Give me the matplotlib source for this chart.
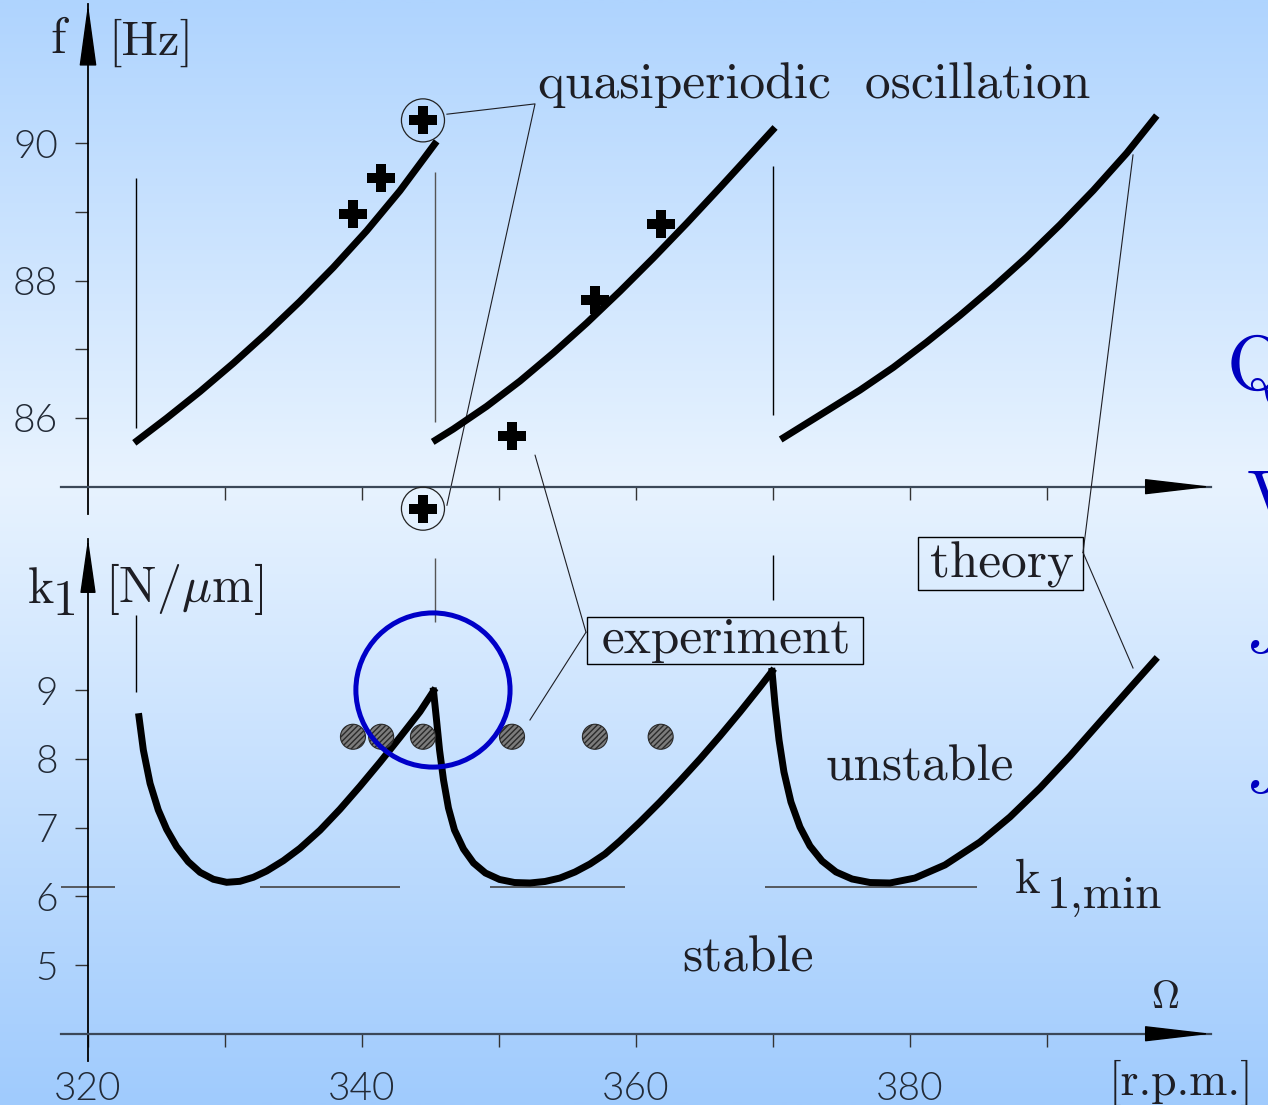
import numpy as np
import matplotlib
matplotlib.use('Agg')
import matplotlib.pyplot as plt
from matplotlib.colors import LinearSegmentedColormap
from matplotlib.patches import Rectangle, ConnectionPatch

plt.rcParams['font.family'] = ['Lato', 'DejaVu Sans']
plt.rcParams['font.weight'] = 300
plt.rcParams['mathtext.fontset'] = 'cm'

# theory: frequency of the self-excited vibration, three branches
f_rpm_1 = [323.38, 325.74, 328.18, 330.61, 333.04, 335.47, 337.91, 340.34, 342.77, 345.45]
f_hz_1 = [85.638, 85.997, 86.385, 86.797, 87.234, 87.696, 88.191, 88.723, 89.306, 90.025]
f_rpm_2 = [345.16, 346.66, 349.10, 351.53, 353.96, 356.40, 358.83, 361.26, 363.70, 366.13,
           368.56, 370.15]
f_hz_2 = [85.652, 85.838, 86.169, 86.537, 86.945, 87.381, 87.843, 88.327, 88.832, 89.352,
          89.881, 90.227]
f_rpm_3 = [370.56, 373.92, 376.35, 378.78, 381.22, 383.65, 386.08, 388.52, 390.95, 393.38,
           395.82, 398.01]
f_hz_3 = [85.687, 86.103, 86.405, 86.735, 87.103, 87.492, 87.904, 88.341, 88.811, 89.311,
          89.854, 90.400]

# theory: stability limit of the stiffness k1
k_rpm_1 = [323.72, 324.04, 324.53, 325.13, 325.74, 326.47, 327.32, 328.18, 329.15, 330.12,
           331.09, 332.07, 333.04, 334.26, 335.47, 336.93, 338.39, 339.85, 341.31, 342.77,
           344.23, 345.22]
k_val_1 = [8.612, 8.127, 7.642, 7.255, 6.974, 6.721, 6.502, 6.348, 6.247, 6.203,
           6.217, 6.276, 6.367, 6.517, 6.697, 6.959, 7.265, 7.599, 7.948, 8.312,
           8.684, 8.985]
k_rpm_2 = [345.22, 345.44, 345.66, 345.95, 346.31, 346.75, 347.41, 348.14, 349.01, 350.04,
           351.13, 352.26, 353.36, 354.45, 355.55, 356.64, 357.74, 358.83, 360.29, 361.75,
           363.21, 364.67, 366.13, 367.59, 369.05, 369.93]
k_val_2 = [8.985, 8.564, 8.127, 7.691, 7.284, 6.964, 6.687, 6.484, 6.338, 6.244,
           6.200, 6.193, 6.215, 6.265, 6.353, 6.469, 6.615, 6.804, 7.080, 7.371,
           7.678, 7.996, 8.331, 8.680, 9.044, 9.271]
k_rpm_3 = [369.93, 370.15, 370.44, 370.80, 371.31, 371.97, 372.70, 373.58, 374.60, 375.77,
           377.08, 378.54, 380.36, 382.55, 385.11, 387.30, 389.49, 391.68, 393.87, 396.06,
           397.88]
k_val_3 = [9.271, 8.782, 8.273, 7.807, 7.371, 7.007, 6.731, 6.513, 6.353, 6.251,
           6.200, 6.193, 6.265, 6.455, 6.789, 7.153, 7.575, 8.040, 8.535, 9.029,
           9.436]

# experiment
exp_rpm = [339.34, 341.40, 344.45, 350.95, 357.00, 361.80]
exp_f = [88.97, 89.49, 90.33, 85.74, 87.71, 88.82]
exp_k = [8.32, 8.32, 8.32, 8.32, 8.32, 8.32]
qp_rpm = [344.45, 344.45]
qp_f = [90.33, 84.68]

# jumps between branches
jump_rpm = [323.5, 345.3, 370.0]
jump_f_lo = [85.85, 85.94, 86.04]
jump_f_hi = [89.49, 89.58, 89.67]
jump_k_lo = [8.97, 9.99, 10.31]
jump_k_hi = [10.09, 10.92, 10.96]

# k1,min level
kmin = 6.14
kmin_from = [318.0, 332.55, 349.34, 369.42]
kmin_to = [322.0, 342.77, 359.20, 384.89]

INK = '#1e1e24'
AXC = '#3b4858'
SERIF = 'cmr10'

fig = plt.figure(figsize=(12.68, 11.05), dpi=100)

# background gradient
bg = fig.add_axes([0, 0, 1, 1], zorder=-10)
cmap = LinearSegmentedColormap.from_list(
    'slide', [(0.0, '#a0cbfd'), (0.566, '#e8f3ff'), (1.0, '#afd4fe')])
bg.imshow(np.linspace(0, 1, 512).reshape(-1, 1), cmap=cmap, origin='lower',
          aspect='auto', extent=[0, 1, 0, 1])
bg.set_axis_off()

ax_f = fig.add_axes([0.04779, 0.53468, 0.90757, 0.46149])
ax_k = fig.add_axes([0.04779, 0.03959, 0.90757, 0.47285])
ax_f.set_xlim(318, 402)
ax_f.set_ylim(84.6, 92.02)
ax_k.set_xlim(318, 402)
ax_k.set_ylim(3.6, 11.2)

for ax, y0 in ((ax_f, 85), (ax_k, 4)):
    ax.set_facecolor('none')
    ax.spines['top'].set_visible(False)
    ax.spines['right'].set_visible(False)
    ax.spines['left'].set_position(('data', 320))
    ax.spines['bottom'].set_position(('data', y0))
    ax.spines['left'].set_color('k')
    ax.spines['left'].set_linewidth(1.3)
    ax.spines['bottom'].set_color(AXC)
    ax.spines['bottom'].set_linewidth(1.6)
    ax.tick_params(which='both', direction='out', length=9.5, width=1.0,
                   color='#333', labelsize=28, labelcolor='#222a36')
    ax.tick_params(axis='y', pad=12)
    ax.tick_params(axis='x', pad=17)
    # arrow heads on both axes
    ax.annotate('', xy=(402, y0), xytext=(397.5, y0),
                arrowprops=dict(arrowstyle='-|>,head_length=4.3,head_width=0.5',
                                mutation_scale=10, color='k', lw=1,
                                shrinkA=0, shrinkB=0))

ax_f.annotate('', xy=(320, 92.02), xytext=(320, 91.2),
              arrowprops=dict(arrowstyle='-|>,head_length=4.0,head_width=0.55',
                              mutation_scale=10, color='k', lw=1, shrinkA=0, shrinkB=0))
ax_k.annotate('', xy=(320, 11.2), xytext=(320, 10.48),
              arrowprops=dict(arrowstyle='-|>,head_length=3.5,head_width=0.5',
                              mutation_scale=10, color='k', lw=1, shrinkA=0, shrinkB=0))

ax_f.set_xticks([330, 340, 350, 360, 370, 380, 390])
ax_f.tick_params(axis='x', labelbottom=False)
ax_f.set_yticks([86, 88, 90])
ax_f.set_yticks([87, 89], minor=True)
ax_k.set_xticks([320, 340, 360, 380])
ax_k.set_xticks([330, 350, 370, 390], minor=True)
ax_k.set_yticks([5, 6, 7, 8, 9])

# frequency panel
for xs, ys in ((f_rpm_1, f_hz_1), (f_rpm_2, f_hz_2), (f_rpm_3, f_hz_3)):
    ax_f.plot(xs, ys, color='k', lw=5, solid_capstyle='butt',
              solid_joinstyle='round', zorder=3)
ax_f.vlines(jump_rpm, jump_f_lo, jump_f_hi, colors=['k', '#555', 'k'], lw=1.0)
ax_f.plot(exp_rpm, exp_f, 'P', ms=20, color='k', mew=0, zorder=4)
ax_f.plot(qp_rpm[1:], qp_f[1:], 'P', ms=20, color='k', mew=0, zorder=4, clip_on=False)
ax_f.scatter(qp_rpm, qp_f, s=31 ** 2, facecolors='none', edgecolors='#222',
             linewidths=0.9, zorder=4, clip_on=False)

# stiffness panel
for xs, ys in ((k_rpm_1, k_val_1), (k_rpm_2, k_val_2), (k_rpm_3, k_val_3)):
    ax_k.plot(xs, ys, color='k', lw=5, solid_joinstyle='miter', zorder=3)
ax_k.vlines(jump_rpm, jump_k_lo, jump_k_hi, colors=['k', '#555', 'k'], lw=1.0)
ax_k.hlines([kmin] * len(kmin_from), kmin_from, kmin_to, colors='#444', lw=1.2)
ax_k.scatter(exp_rpm, exp_k, s=18 ** 2, c='#7c7c7c', edgecolors='#2a2a2a',
             hatch='//////', linewidths=0.8, zorder=4)
ax_k.scatter([345.18], [9.0], s=111 ** 2, facecolors='none', edgecolors='#0000c8',
             linewidths=3.6, zorder=5)

# axis labels
ax_f.text(317.8, 91.31, 'f', family=SERIF, fontsize=36, color=INK, ha='center', va='baseline')
ax_f.text(321.46, 91.28, '[Hz]', family=SERIF, fontsize=35, color=INK, va='baseline')
ax_k.text(315.6, 10.27, 'k', family=SERIF, fontsize=36, color=INK, va='baseline')
ax_k.text(317.45, 10.09, '1', family=SERIF, fontsize=36, color=INK, va='baseline')
ax_k.text(321.24, 10.28, r'$[\mathrm{N}/\mu\mathrm{m}]$', fontsize=36, color=INK, va='baseline')
ax_k.text(398.6, 4.375, r'$\Omega$', fontsize=28, color=INK, ha='center', va='baseline')
ax_k.text(394.5, 3.11, '[r.p.m.]', family=SERIF, fontsize=33, color=INK, va='baseline',
          clip_on=False)

# annotations
ax_f.text(352.85, 90.655, 'quasiperiodic  oscillation', family=SERIF, fontsize=37,
          color=INK, va='baseline')
ax_f.plot([346.2, 352.63, 346.2], [90.42, 90.57, 84.73], color=INK, lw=0.8, zorder=2)

ax_k.add_patch(Rectangle((356.42, 9.378), 20.15, 0.684, fill=False, ec='k', lw=1.0))
ax_k.text(366.6, 9.54, 'experiment', family=SERIF, fontsize=37, color=INK,
          ha='center', va='baseline')
ax_k.plot([356.35, 352.26], [9.84, 8.564], color=INK, lw=0.8)
fig.add_artist(ConnectionPatch(xyA=(352.63, 85.46), coordsA=ax_f.transData,
                               xyB=(356.35, 9.84), coordsB=ax_k.transData,
                               color=INK, lw=0.8))

ax_k.add_patch(Rectangle((380.58, 10.455), 12.05, 0.77, fill=False, ec='k', lw=1.0,
                         clip_on=False))
ax_k.text(386.7, 10.64, 'theory', family=SERIF, fontsize=37, color=INK,
          ha='center', va='baseline')
ax_k.plot([392.63, 396.28], [11.0, 9.32], color=INK, lw=0.8)
fig.add_artist(ConnectionPatch(xyA=(396.28, 89.83), coordsA=ax_f.transData,
                               xyB=(392.63, 11.0), coordsB=ax_k.transData,
                               color=INK, lw=0.8))

ax_k.text(373.8, 7.69, 'unstable', family=SERIF, fontsize=37, color=INK, va='baseline')
ax_k.text(363.36, 4.90, 'stable', family=SERIF, fontsize=37, color=INK, va='baseline')
ax_k.text(387.66, 6.05, 'k', family=SERIF, fontsize=35, color=INK, va='baseline')
ax_k.text(390.0, 5.83, '1,min', family=SERIF, fontsize=34, color=INK, va='baseline')

# slide text running off the right edge
BLUE = '#0000c0'
fig.text(0.9677, 0.647, 'Q', family=SERIF, fontsize=56, color=BLUE, va='baseline')
fig.text(0.9834, 0.5294, 'V', family=SERIF, fontsize=52, color=BLUE, va='baseline')
fig.text(0.9815, 0.41, r'$J$', fontsize=52, color=BLUE, va='baseline')
fig.text(0.9815, 0.2833, r'$J$', fontsize=52, color=BLUE, va='baseline')

fig.savefig('out.png', dpi=100)
